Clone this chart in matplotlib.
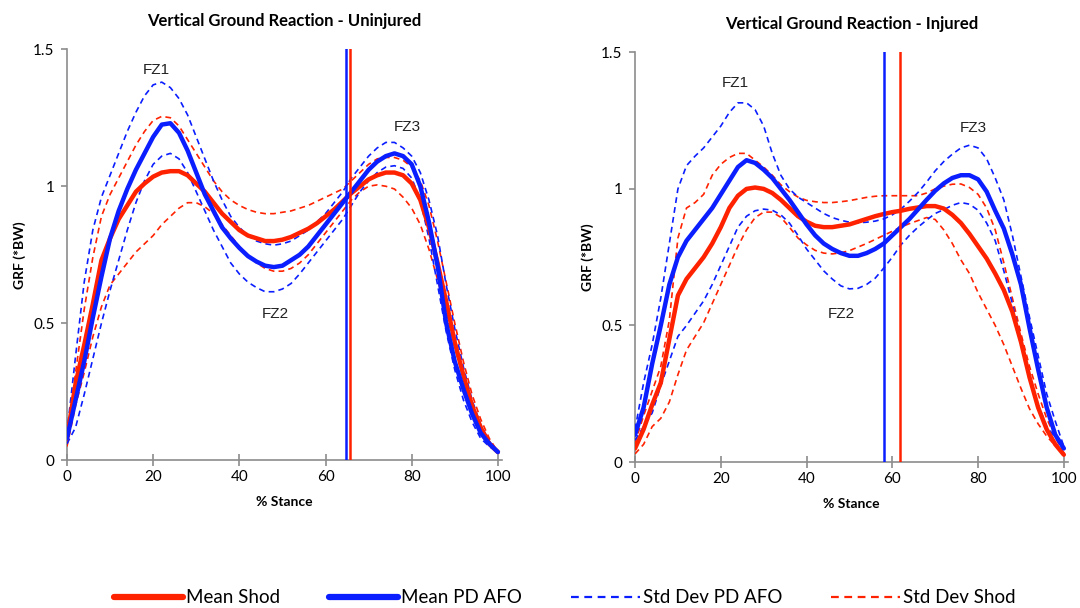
import matplotlib
matplotlib.use("Agg")
import matplotlib.pyplot as plt
from matplotlib.lines import Line2D

x = list(range(0, 101, 2))

# ---------- Uninjured ----------
u_mean_shod = [0.08, 0.28, 0.42, 0.57, 0.73, 0.81, 0.88, 0.93, 0.98, 1.01, 1.035, 1.05, 1.055, 1.055, 1.04,
               1.01, 0.98, 0.94, 0.90, 0.87, 0.84, 0.82, 0.81, 0.80, 0.80, 0.805, 0.815, 0.83, 0.845, 0.865,
               0.89, 0.915, 0.945, 0.975, 1.0, 1.025, 1.04, 1.05, 1.05, 1.04, 1.01, 0.95, 0.85, 0.72, 0.58,
               0.43, 0.31, 0.20, 0.12, 0.06, 0.03]
u_mean_afo = [0.08, 0.22, 0.36, 0.52, 0.67, 0.81, 0.91, 0.99, 1.06, 1.12, 1.18, 1.225, 1.23, 1.195, 1.13,
              1.05, 0.97, 0.91, 0.85, 0.81, 0.775, 0.745, 0.725, 0.71, 0.705, 0.71, 0.73, 0.75, 0.78, 0.82,
              0.86, 0.90, 0.94, 0.98, 1.02, 1.06, 1.09, 1.11, 1.12, 1.11, 1.08, 1.00, 0.87, 0.71, 0.50,
              0.36, 0.26, 0.17, 0.10, 0.06, 0.03]
u_sd_afo_hi = [0.10, 0.38, 0.65, 0.84, 0.96, 1.04, 1.12, 1.20, 1.27, 1.33, 1.37, 1.38, 1.36, 1.32, 1.26,
               1.18, 1.10, 1.02, 0.95, 0.89, 0.85, 0.82, 0.80, 0.79, 0.785, 0.79, 0.80, 0.82, 0.84, 0.87,
               0.90, 0.94, 0.98, 1.03, 1.07, 1.11, 1.14, 1.16, 1.16, 1.14, 1.11, 1.05, 0.95, 0.82, 0.64,
               0.48, 0.34, 0.22, 0.13, 0.07, 0.03]
u_sd_afo_lo = [0.06, 0.12, 0.24, 0.37, 0.50, 0.62, 0.73, 0.84, 0.94, 1.02, 1.08, 1.11, 1.12, 1.10, 1.05,
               0.98, 0.91, 0.84, 0.78, 0.72, 0.68, 0.65, 0.63, 0.615, 0.615, 0.625, 0.645, 0.68, 0.72, 0.76,
               0.80, 0.84, 0.88, 0.93, 0.98, 1.02, 1.05, 1.07, 1.075, 1.065, 1.03, 0.95, 0.81, 0.64, 0.47,
               0.33, 0.22, 0.14, 0.08, 0.05, 0.03]
u_sd_shod_hi = [0.07, 0.32, 0.55, 0.74, 0.89, 0.97, 1.03, 1.09, 1.15, 1.20, 1.24, 1.255, 1.25, 1.22, 1.17,
                1.12, 1.07, 1.02, 0.98, 0.95, 0.93, 0.915, 0.905, 0.90, 0.90, 0.905, 0.91, 0.92, 0.93, 0.945,
                0.96, 0.975, 0.99, 1.02, 1.05, 1.08, 1.10, 1.105, 1.105, 1.095, 1.07, 1.02, 0.93, 0.80, 0.65,
                0.50, 0.36, 0.24, 0.15, 0.08, 0.03]
u_sd_shod_lo = [0.05, 0.20, 0.32, 0.45, 0.56, 0.64, 0.68, 0.72, 0.76, 0.79, 0.82, 0.86, 0.89, 0.92, 0.94,
                0.94, 0.925, 0.90, 0.86, 0.82, 0.78, 0.75, 0.72, 0.70, 0.69, 0.69, 0.70, 0.72, 0.75, 0.79,
                0.83, 0.87, 0.91, 0.95, 0.98, 1.0, 1.005, 1.0, 0.99, 0.96, 0.92, 0.86, 0.77, 0.66, 0.54,
                0.41, 0.30, 0.20, 0.12, 0.07, 0.03]

# ---------- Injured ----------
i_mean_shod = [0.05, 0.12, 0.21, 0.29, 0.45, 0.61, 0.67, 0.71, 0.75, 0.80, 0.86, 0.93, 0.975, 1.0, 1.005,
               1.0, 0.985, 0.96, 0.93, 0.90, 0.88, 0.865, 0.86, 0.86, 0.865, 0.87, 0.88, 0.89, 0.90, 0.908,
               0.915, 0.92, 0.927, 0.932, 0.937, 0.937, 0.928, 0.905, 0.875, 0.835, 0.79, 0.745, 0.69, 0.63, 0.55,
               0.44, 0.31, 0.20, 0.12, 0.065, 0.027]
i_mean_afo = [0.10, 0.20, 0.36, 0.50, 0.65, 0.75, 0.81, 0.85, 0.89, 0.93, 0.98, 1.03, 1.08, 1.105, 1.095,
              1.07, 1.04, 1.0, 0.96, 0.915, 0.87, 0.83, 0.80, 0.78, 0.765, 0.755, 0.755, 0.765, 0.78, 0.80,
              0.83, 0.86, 0.89, 0.925, 0.96, 0.993, 1.02, 1.04, 1.05, 1.05, 1.035, 0.99, 0.92, 0.855, 0.76,
              0.65, 0.49, 0.34, 0.20, 0.10, 0.05]
i_sd_afo_hi = [0.12, 0.29, 0.43, 0.60, 0.80, 1.0, 1.085, 1.12, 1.15, 1.19, 1.23, 1.28, 1.315, 1.315, 1.29,
               1.23, 1.13, 1.05, 1.0, 0.97, 0.95, 0.93, 0.91, 0.895, 0.885, 0.878, 0.876, 0.878, 0.882, 0.89,
               0.905, 0.926, 0.955, 0.987, 1.025, 1.066, 1.10, 1.127, 1.15, 1.16, 1.15, 1.11, 1.04, 0.96, 0.83,
               0.68, 0.53, 0.39, 0.25, 0.15, 0.057]
i_sd_afo_lo = [0.08, 0.13, 0.18, 0.28, 0.37, 0.46, 0.50, 0.545, 0.59, 0.65, 0.72, 0.79, 0.86, 0.90, 0.92,
               0.926, 0.922, 0.905, 0.875, 0.83, 0.78, 0.74, 0.70, 0.67, 0.645, 0.634, 0.636, 0.65, 0.673, 0.71,
               0.75, 0.795, 0.83, 0.86, 0.886, 0.91, 0.924, 0.94, 0.95, 0.944, 0.922, 0.875, 0.81, 0.70, 0.58,
               0.45, 0.31, 0.21, 0.13, 0.09, 0.05]
i_sd_shod_hi = [0.07, 0.17, 0.26, 0.35, 0.52, 0.82, 0.93, 0.95, 0.98, 1.05, 1.09, 1.115, 1.13, 1.13, 1.105,
                1.08, 1.05, 1.015, 0.99, 0.97, 0.958, 0.953, 0.95, 0.95, 0.953, 0.957, 0.963, 0.969, 0.973, 0.975,
                0.975, 0.975, 0.975, 0.975, 0.985, 1.0, 1.01, 1.017, 1.018, 1.005, 0.98, 0.93, 0.85, 0.73, 0.60,
                0.47, 0.35, 0.25, 0.16, 0.09, 0.033]
i_sd_shod_lo = [0.03, 0.065, 0.13, 0.16, 0.22, 0.32, 0.41, 0.46, 0.51, 0.58, 0.65, 0.72, 0.79, 0.85, 0.895,
                0.915, 0.915, 0.896, 0.86, 0.82, 0.795, 0.775, 0.765, 0.762, 0.766, 0.774, 0.787, 0.80, 0.815, 0.83,
                0.845, 0.86, 0.873, 0.884, 0.895, 0.888, 0.85, 0.80, 0.74, 0.69, 0.62, 0.56, 0.50, 0.43, 0.35,
                0.27, 0.195, 0.14, 0.095, 0.06, 0.033]

titles = ["Vertical Ground Reaction - Uninjured", "Vertical Ground Reaction - Injured"]
vlines_afo = [64.7, 58.1]
vlines_shod = [65.7, 61.7]
fz_labels = ["FZ1", "FZ2", "FZ3"]
fz_pos = [[(20.8, 1.425), (48.4, 0.535), (79.0, 1.215)],
          [(23.3, 1.388), (48.2, 0.543), (79.0, 1.224)]]
legend_labels = ["Mean Shod", "Mean PD AFO", "Std Dev PD AFO", "Std Dev Shod"]

RED = "#FF2200"
BLUE = "#0A1EFF"
GRAY = "#8C8C8C"
UI = "Lato"

fig = plt.figure(figsize=(10.8, 6.08), dpi=100)
axes = [fig.add_axes([0.062, 0.243, 0.403, 0.676]),
        fig.add_axes([0.588, 0.240, 0.401, 0.674])]

datasets = [
    (u_mean_shod, u_mean_afo, u_sd_afo_hi, u_sd_afo_lo, u_sd_shod_hi, u_sd_shod_lo),
    (i_mean_shod, i_mean_afo, i_sd_afo_hi, i_sd_afo_lo, i_sd_shod_hi, i_sd_shod_lo),
]

dash = (0, (3.5, 2.5))
for k, ax in enumerate(axes):
    ms, ma, ah, al, sh, sl = datasets[k]
    ax.plot(x, sh, color=RED, lw=1.2, ls=dash, zorder=3)
    ax.plot(x, sl, color=RED, lw=1.2, ls=dash, zorder=3)
    ax.plot(x, ah, color=BLUE, lw=1.2, ls=dash, zorder=3)
    ax.plot(x, al, color=BLUE, lw=1.2, ls=dash, zorder=3)
    ax.plot(x, ms, color=RED, lw=3.2, zorder=4, solid_capstyle="round", solid_joinstyle="round")
    ax.plot(x, ma, color=BLUE, lw=3.2, zorder=5, solid_capstyle="round", solid_joinstyle="round")
    ax.axvline(vlines_afo[k], color=BLUE, lw=1.8, zorder=6)
    ax.axvline(vlines_shod[k], color=RED, lw=1.8, zorder=6)
    for lab, (px, py) in zip(fz_labels, fz_pos[k]):
        ax.text(px, py, lab, ha="center", va="center", fontsize=11,
                family="Liberation Sans", color="#222222")
    ax.set_xlim(0, 101)
    ax.set_ylim(0, 1.5)
    ax.set_xticks([0, 20, 40, 60, 80, 100])
    ax.set_yticks([0, 0.5, 1, 1.5])
    ax.set_yticklabels(["0", "0.5", "1", "1.5"])
    for s in ["top", "right"]:
        ax.spines[s].set_visible(False)
    for s in ["left", "bottom"]:
        ax.spines[s].set_color(GRAY)
        ax.spines[s].set_linewidth(1.2)
    ax.tick_params(axis="x", direction="inout", length=8, color=GRAY, width=1.2,
                   labelsize=11, pad=3)
    ax.tick_params(axis="y", direction="out", length=4, color=GRAY, width=1.2,
                   labelsize=11, pad=5)
    for t in ax.get_xticklabels() + ax.get_yticklabels():
        t.set_family(UI)
    ax.set_title(titles[k], fontsize=12, fontweight="bold", family=UI, pad=17)
    ax.set_xlabel("% Stance", fontsize=10, fontweight="bold", family=UI, labelpad=9)
    ax.set_ylabel("GRF (*BW)", fontsize=10, fontweight="bold", family=UI, labelpad=5)

handles = [Line2D([], [], color=RED, lw=4.5, solid_capstyle="round"),
           Line2D([], [], color=BLUE, lw=4.5, solid_capstyle="round"),
           Line2D([], [], color=BLUE, lw=1.6, ls=dash),
           Line2D([], [], color=RED, lw=1.6, ls=dash)]
leg = fig.legend(handles, legend_labels, loc="center", bbox_to_anchor=(0.523, 0.017),
                 ncol=4, frameon=False, handlelength=3.7,
                 handletextpad=0.15, columnspacing=2.6,
                 prop={"family": UI, "size": 13.5})

fig.savefig("out.png", dpi=100)
